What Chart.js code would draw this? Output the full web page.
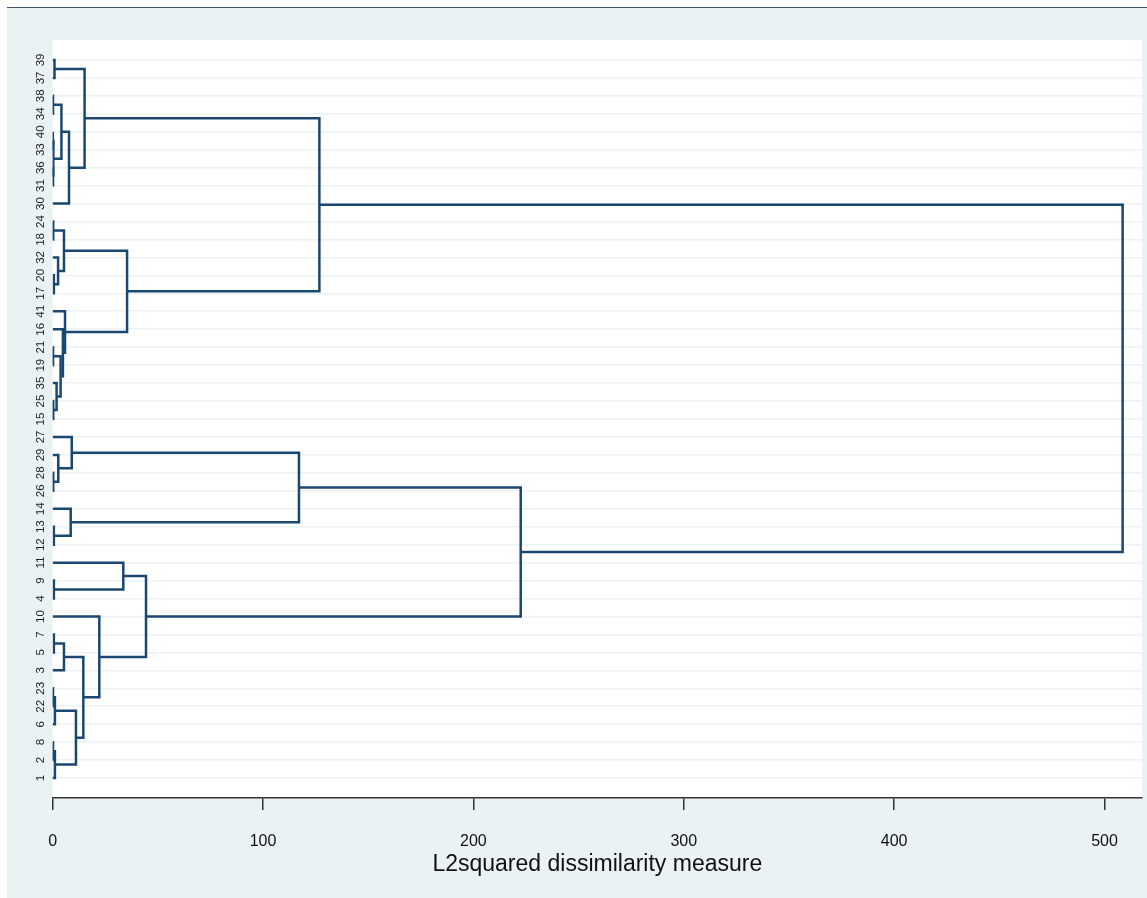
<!DOCTYPE html>
<html>
<head>
<meta charset="utf-8">
<script src="https://cdn.jsdelivr.net/npm/chart.js@4/dist/chart.umd.min.js"></script>
<style>
  html, body { margin: 0; padding: 0; background: #fff; }
  canvas { display: block; }
</style>
</head>
<body>
<canvas id="dendro" width="1147" height="898"></canvas>
<script>
// Folhas, de cima para baixo
const leaves = ['39', '37', '38', '34', '40', '33', '36', '31', '30', '24', '18', '32', '20', '17',
    '41', '16', '21', '19', '35', '25', '15', '27', '29', '28', '26', '14', '13', '12',
    '11', '9', '4', '10', '7', '5', '3', '23', '22', '6', '8', '2', '1'];

// Fusões: filho esquerdo, filho direito ('m' + índice = fusão anterior), altura
const mergeLeft = ['39', '38', '40', '36', 'm2', 'm1', 'm5', 'm0', '24', '20', '32', 'm8', '25', '35',
    '21', 'm14', '16', '41', 'm11', 'm7', '28', '29', '27', '13', '14', 'm22', '9', '11', '7', 'm28',
    '23', 'm30', '8', 'm32', 'm31', 'm29', '10', 'm27', 'm25', 'm19'];
const mergeRight = ['37', '34', '33', '31', 'm3', 'm4', '30', 'm6', '18', '17', 'm9', 'm10', '15', 'm12',
    '19', 'm13', 'm15', 'm16', 'm17', 'm18', '26', 'm20', 'm21', '12', 'm23', 'm24', '4', 'm26', '5', '3',
    '22', '6', '2', '1', 'm33', 'm34', 'm35', 'm36', 'm37', 'm38'];
const mergeHeight = [0.9, 0.2, 0.15, 0.2, 0.4, 4.2, 7.8, 15.2, 0.3, 0.6, 2.6, 5.4, 0.3, 1.9,
    0.2, 3.8, 4.9, 5.9, 35.4, 126.8, 0.3, 2.7, 9.1, 0.6, 8.6, 117.1, 0.6, 33.6, 0.6, 5.4,
    0.2, 1.1, 0.2, 1.1, 11.1, 14.6, 22.2, 44.4, 222.5, 508.6];

const xTicks = [0, 100, 200, 300, 400, 500];

// Monta os segmentos em forma de U
const node = {};
leaves.forEach((l, i) => { node[l] = { y: i, h: 0 }; });
const datasets = mergeHeight.map((h, k) => {
    const a = node[mergeLeft[k]];
    const b = node[mergeRight[k]];
    node['m' + k] = { y: (a.y + b.y) / 2, h: h };
    return {
        data: [{ x: a.h, y: a.y }, { x: h, y: a.y }, { x: h, y: b.y }, { x: b.h, y: b.y }],
        showLine: true,
        borderColor: '#1a476f',
        borderWidth: 2.5,
        pointRadius: 0,
        pointHoverRadius: 0,
        fill: false
    };
});

// Fundo estilo Stata
const background = {
    id: 'background',
    beforeDraw(chart) {
        const { ctx, chartArea } = chart;
        ctx.save();
        ctx.fillStyle = '#ffffff';
        ctx.fillRect(0, 0, chart.width, chart.height);
        ctx.fillStyle = '#eaf2f3';
        ctx.fillRect(7, 8, chart.width - 7, chart.height - 8);
        ctx.strokeStyle = '#3f5470';
        ctx.lineWidth = 1;
        ctx.beginPath();
        ctx.moveTo(7, 7.5);
        ctx.lineTo(chart.width, 7.5);
        ctx.stroke();
        ctx.fillStyle = '#ffffff';
        ctx.fillRect(chartArea.left, chartArea.top, chartArea.right - chartArea.left, chartArea.bottom - chartArea.top);
        ctx.restore();
    }
};

// Rótulos das folhas (verticais)
const leafLabels = {
    id: 'leafLabels',
    afterDraw(chart) {
        const { ctx } = chart;
        const y = chart.scales.y;
        ctx.save();
        ctx.font = '11.5px "Liberation Sans", Arial, sans-serif';
        ctx.fillStyle = '#222';
        ctx.textAlign = 'center';
        ctx.textBaseline = 'middle';
        leaves.forEach((l, i) => {
            ctx.save();
            ctx.translate(41, y.getPixelForValue(i));
            ctx.rotate(-Math.PI / 2);
            ctx.fillText(l, 0, 0);
            ctx.restore();
        });
        ctx.restore();
    }
};

const config = {
    type: 'scatter',
    data: { datasets: datasets },
    options: {
        responsive: false,
        animation: false,
        layout: { padding: { left: 7, top: 40, right: 5, bottom: 0 } },
        plugins: {
            legend: { display: false },
            tooltip: { enabled: false }
        },
        scales: {
            x: {
                type: 'linear',
                min: 0,
                max: 517.8,
                afterFit: s => { s.height = 100; },
                afterBuildTicks: s => { s.ticks = xTicks.map(v => ({ value: v })); },
                border: { display: true, color: '#333', width: 1.5 },
                grid: { drawOnChartArea: false, drawTicks: true, tickLength: 12, color: '#333', lineWidth: 1.5 },
                ticks: {
                    color: '#111',
                    padding: 22,
                    font: { family: '"Liberation Sans", Arial, sans-serif', size: 16 }
                },
                title: {
                    display: true,
                    text: 'L2squared dissimilarity measure',
                    color: '#111',
                    padding: { top: 0, bottom: 20 },
                    font: { family: '"Liberation Sans", Arial, sans-serif', size: 23 }
                }
            },
            y: {
                type: 'linear',
                reverse: true,
                min: -1.11,
                max: leaves.length - 1 + 1.11,
                afterFit: s => { s.width = 45.6; },
                afterBuildTicks: s => { s.ticks = leaves.map((l, i) => ({ value: i })); },
                border: { display: false },
                grid: { color: '#eaf2f3', lineWidth: 1.6, drawTicks: false },
                ticks: { display: false }
            }
        }
    },
    plugins: [background, leafLabels]
};

new Chart(document.getElementById('dendro'), config);
</script>
</body>
</html>
